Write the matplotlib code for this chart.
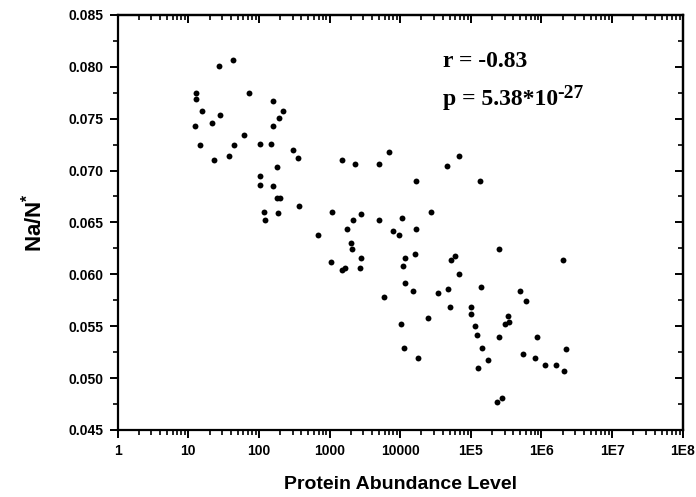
import numpy as np
import matplotlib
matplotlib.use('Agg')
import matplotlib.pyplot as plt
from matplotlib.ticker import LogLocator, MultipleLocator, FixedLocator, FixedFormatter, NullFormatter

# protein abundance (x) and Na/N* (y)
abundance = [
    27.1, 43.3, 12.7, 12.7, 15.8, 72.9, 159, 216, 28, 194, 12.3, 21.6, 159, 61.1,
    14.8, 43.7, 103, 146, 299, 360, 38, 23.3, 182,
    104, 104, 159, 183, 200, 375, 117, 187, 121,
    1489, 2301, 4966, 6871, 67300, 45500, 16800, 133000, 1099, 2800, 2178, 4966,
    10500, 27400, 1774, 7830, 9740, 16800, 690, 1995, 2110, 2760, 11600, 16400,
    59000, 52300, 1052, 1507, 1660, 2710, 10970, 67300, 11600,
    15200, 5920, 34400, 48000, 139000, 51300, 100700, 101600, 24500, 10400,
    116000, 122000, 11500, 144000, 17900, 126000,
    247000, 2.03e6, 490000, 596000, 339000, 307000, 347000, 253000, 863000,
    177000, 553000, 817000, 1.11e6, 1.63e6, 2.08e6, 2.24e6, 237000, 273000,
]
na_ratio = [
    0.0801, 0.0807, 0.0775, 0.0769, 0.0757, 0.0775, 0.0767, 0.0757, 0.0754, 0.0751,
    0.0743, 0.0746, 0.0743, 0.0734, 0.0725, 0.0725, 0.0726, 0.0726, 0.0720, 0.0712,
    0.0714, 0.0710, 0.0703,
    0.0695, 0.0686, 0.0685, 0.0674, 0.0674, 0.0666, 0.0660, 0.0659, 0.0652,
    0.0710, 0.0706, 0.0706, 0.0718, 0.0714, 0.0704, 0.0690, 0.0690, 0.0660, 0.0658,
    0.0652, 0.0652, 0.0654, 0.0660, 0.0644, 0.0642, 0.0638, 0.0644, 0.0638, 0.0630,
    0.0624, 0.0616, 0.0616, 0.0620, 0.0618, 0.0614, 0.0612, 0.0604, 0.0606, 0.0606,
    0.0608, 0.0600, 0.0592,
    0.0584, 0.0578, 0.0582, 0.0586, 0.0588, 0.0568, 0.0568, 0.0562, 0.0558, 0.0552,
    0.0550, 0.0541, 0.0529, 0.0529, 0.0519, 0.0510,
    0.0624, 0.0614, 0.0584, 0.0574, 0.0560, 0.0552, 0.0554, 0.0540, 0.0540,
    0.0517, 0.0523, 0.0519, 0.0513, 0.0513, 0.0507, 0.0528, 0.0477, 0.0481,
]

x_ticks = [1, 10, 100, 1000, 10000, 1e5, 1e6, 1e7, 1e8]
x_ticklabels = ['1', '10', '100', '1000', '10000', '1E5', '1E6', '1E7', '1E8']

plt.rcParams['font.family'] = ['Liberation Sans', 'DejaVu Sans']
plt.rcParams['mathtext.fontset'] = 'custom'
plt.rcParams['mathtext.rm'] = 'Liberation Sans:bold'
plt.rcParams['mathtext.bf'] = 'Liberation Sans:bold'

fig = plt.figure(figsize=(6.96, 4.97), dpi=100)
ax = fig.add_axes([0.169, 0.135, 0.812, 0.835])

ax.scatter(abundance, na_ratio, s=18, color='black', linewidths=0, zorder=3)

ax.set_xscale('log')
ax.set_xlim(1, 1e8)
ax.set_ylim(0.045, 0.085)

minor_subs = np.arange(2, 10)
ax.xaxis.set_major_locator(FixedLocator(x_ticks))
ax.xaxis.set_major_formatter(FixedFormatter(x_ticklabels))
ax.xaxis.set_minor_locator(LogLocator(base=10, subs=minor_subs, numticks=100))
ax.xaxis.set_minor_formatter(NullFormatter())
ax.yaxis.set_major_locator(MultipleLocator(0.005))
ax.yaxis.set_minor_locator(MultipleLocator(0.0025))
ax.yaxis.set_major_formatter(plt.FormatStrFormatter('%.3f'))

for s in ax.spines.values():
    s.set_linewidth(1.6)

ax.tick_params(which='major', direction='out', length=6, width=1.4,
               labelsize=10, pad=4)
ax.tick_params(which='minor', direction='out', length=3.5, width=1.2)
for lab in ax.get_xticklabels() + ax.get_yticklabels():
    lab.set_fontweight('bold')

# mirrored ticks on top and right, pointing inwards
top = ax.secondary_xaxis('top')
top.xaxis.set_major_locator(FixedLocator(x_ticks))
top.xaxis.set_minor_locator(LogLocator(base=10, subs=minor_subs, numticks=100))
top.tick_params(which='major', direction='in', length=6, width=1.4, labeltop=False)
top.tick_params(which='minor', direction='in', length=3.5, width=1.2)
top.spines['top'].set_linewidth(1.6)

right = ax.secondary_yaxis('right')
right.yaxis.set_major_locator(MultipleLocator(0.005))
right.yaxis.set_minor_locator(MultipleLocator(0.0025))
right.tick_params(which='major', direction='in', length=6, width=1.4, labelright=False)
right.tick_params(which='minor', direction='in', length=3.5, width=1.2)
right.spines['right'].set_linewidth(1.6)

ax.set_xlabel('Protein Abundance Level', fontsize=14, fontweight='bold', labelpad=13)
ax.set_ylabel(r'Na/N$^{*}$', fontsize=16, fontweight='bold', labelpad=16)

ax.text(0.575, 0.887, 'r = -0.83', transform=ax.transAxes, fontsize=17,
        fontweight='bold', family='Liberation Serif', va='center')
ptxt = ax.text(0.575, 0.795, 'p = 5.38*10', transform=ax.transAxes, fontsize=17,
               fontweight='bold', family='Liberation Serif', va='center')
ax.annotate('-27', xy=(1, 0.58), xycoords=ptxt, fontsize=14, fontweight='bold',
            family='Liberation Serif', va='baseline', ha='left')

fig.savefig('out.png', dpi=100)
